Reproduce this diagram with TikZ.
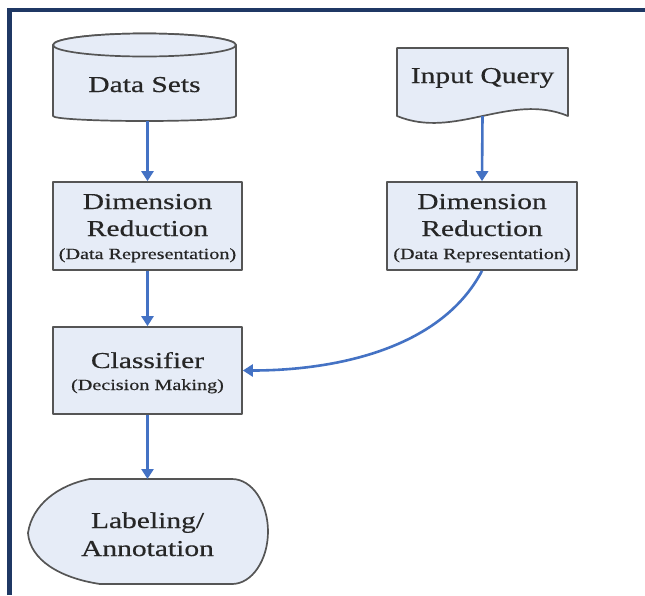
\documentclass[tikz,border=0pt]{standalone}
\usepackage{fontspec}
\setmainfont[FakeStretch=1.3,FakeBold=0.5]{Liberation Serif}
\usetikzlibrary{arrows.meta}
\definecolor{fillb}{HTML}{E6ECF7}
\definecolor{edgegray}{HTML}{555555}
\definecolor{arrowb}{HTML}{4472C4}
\definecolor{framenavy}{HTML}{1F3864}
\begin{document}
\begin{tikzpicture}[x=1pt,y=-1pt,
  shapeline/.style={draw=edgegray, line width=1.7pt, fill=fillb, line join=round},
  boxnode/.style={shapeline, rectangle, inner sep=0pt, minimum width=#1, minimum height=88pt},
  ghost/.style={inner sep=0pt, outer sep=0pt},
  big/.style={font=\fontsize{22.7}{26}\selectfont, text=black!85, inner sep=0pt, anchor=base},
  small/.style={font=\fontsize{15.5}{18}\selectfont, text=black!85, inner sep=0pt, anchor=base},
  conn/.style={draw=arrowb, line width=2.6pt, -{Triangle[width=12pt,length=10pt]}}
]
\useasboundingbox (0,0) rectangle (645,595);
\fill[white] (0,0) rectangle (645,595);
% frame
\draw[framenavy, line width=4.5pt, line join=miter] (9.5,595) -- (9.5,10) -- (645,10);

% Data Sets cylinder
\path[shapeline] (53,45) -- (53,116) .. controls (53,118.8) and (94,121) .. (144.5,121)
  .. controls (195,121) and (236,118.8) .. (236,116) -- (236,45)
  .. controls (236,38.6) and (195,33.5) .. (144.5,33.5) .. controls (94,33.5) and (53,38.6) .. (53,45) -- cycle;
\draw[shapeline] (144.5,45) ellipse [x radius=91.5, y radius=11.5];
\node[ghost, minimum width=183pt, minimum height=87pt] (ds) at (144.5,77.5) {};
\node[big] (dst) at (144.5,92) {Data Sets};

% Input Query document
\path[shapeline] (397,48) -- (568,48) -- (568,116) .. controls (510,92) and (455,140) .. (397,116) -- cycle;
\node[ghost, minimum width=171pt, minimum height=68pt] (iq) at (482.5,82) {};
\node[big] (iqt) at (482.5,83) {Input Query};

% Dimension reduction boxes
\node[boxnode=189pt] (dr1) at (147.5,226) {};
\node[big] (dr1a) at (147.5,209) {Dimension};
\node[big] (dr1b) at (147.5,236) {Reduction};
\node[small] (dr1c) at (147.5,259) {(Data Representation)};

\node[boxnode=190pt] (dr2) at (482,226) {};
\node[big] (dr2a) at (482,209) {Dimension};
\node[big] (dr2b) at (482,236) {Reduction};
\node[small] (dr2c) at (482,259) {(Data Representation)};

% Classifier
\node[boxnode=189pt, minimum height=87pt] (cls) at (147.5,370.5) {};
\node[big] (clsa) at (147.5,368) {Classifier};
\node[small] (clsb) at (147.5,390) {(Decision Making)};

% Labeling display shape
\path[shapeline] (90,479) -- (232,479) .. controls (252,479) and (268,503) .. (268,531.5)
  .. controls (268,560) and (252,584) .. (232,584) -- (100,584)
  .. controls (60,578) and (30,560) .. (28,533) .. controls (32,505) and (58,485) .. (90,479) -- cycle;
\node[ghost, minimum width=240pt, minimum height=105pt] (lab) at (147.5,531.5) {};
\node[big] (laba) at (147.5,528) {Labeling/};
\node[big] (labb) at (147.5,556) {Annotation};

% connectors
\draw[conn] (dr1.north |- ds.south) -- (dr1.north);
\draw[conn] (dr1.south) -- (cls.north);
\draw[conn] (cls.south) -- (lab.north);
\draw[conn] (iq.south) -- (dr2.north);
\draw[conn] (dr2.south) .. controls +(-42,80) and +(88,0) .. (cls.east);
\end{tikzpicture}
\end{document}
